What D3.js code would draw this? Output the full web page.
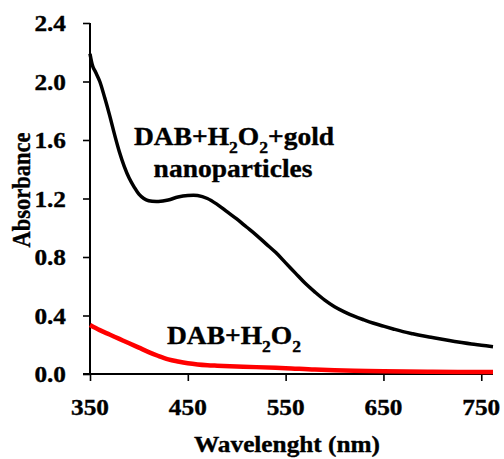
<!DOCTYPE html>
<html>
<head>
<meta charset="utf-8">
<script src="https://cdn.jsdelivr.net/npm/d3@7"></script>
<style>
  html, body { margin: 0; padding: 0; background: #fff; }
</style>
</head>
<body>
<div id="chart"></div>
<script>
  // wavelength (nm) and absorbance
  const goldWl = [350, 353, 356, 360, 365, 370, 375, 380, 385, 390, 395, 400, 405, 410, 420, 430, 440, 450, 460, 470, 480, 490, 500, 510, 520, 530, 540, 550, 560, 570, 580, 590, 600, 610, 620, 630, 640, 650, 660, 670, 680, 690, 700, 710, 720, 730, 740, 750, 762];
  const goldAbs = [2.19, 2.10, 2.06, 2.00, 1.89, 1.77, 1.64, 1.52, 1.42, 1.34, 1.28, 1.23, 1.20, 1.185, 1.18, 1.19, 1.21, 1.22, 1.22, 1.20, 1.16, 1.11, 1.06, 1.005, 0.95, 0.89, 0.83, 0.76, 0.69, 0.62, 0.56, 0.505, 0.46, 0.425, 0.395, 0.37, 0.347, 0.327, 0.308, 0.29, 0.275, 0.261, 0.249, 0.237, 0.226, 0.215, 0.205, 0.197, 0.187];

  const dabWl = [350, 360, 370, 380, 390, 400, 410, 420, 430, 440, 450, 460, 470, 480, 500, 520, 550, 580, 620, 650, 700, 762];
  const dabAbs = [0.335, 0.30, 0.27, 0.24, 0.21, 0.18, 0.15, 0.123, 0.10, 0.085, 0.073, 0.065, 0.06, 0.057, 0.052, 0.047, 0.04, 0.03, 0.022, 0.018, 0.015, 0.013];

  const xTicks = [350, 450, 550, 650, 750];
  const yTicks = [0.0, 0.4, 0.8, 1.2, 1.6, 2.0, 2.4];

  const W = 504, H = 459;
  const sx = 1.1; // the picture's text is slightly wide
  const FONT = '"Liberation Serif", "Times New Roman", serif';

  const svg = d3.select('#chart').append('svg')
    .attr('width', W).attr('height', H);

  const x = d3.scaleLinear().domain([350, 762]).range([90, 493]);
  const y = d3.scaleLinear().domain([0, 2.4]).range([374, 23]);

  // axes (ticks only, labels drawn below)
  svg.append('g')
    .attr('transform', `translate(${x(350)},0)`)
    .call(d3.axisLeft(y).tickValues(yTicks).tickSize(7).tickFormat(''));
  svg.append('g')
    .attr('transform', `translate(0,${y(0)})`)
    .call(d3.axisBottom(x).tickValues(xTicks).tickSize(7).tickFormat(''));
  svg.selectAll('.domain').remove();
  svg.selectAll('.tick line').attr('stroke', '#000').attr('stroke-width', 1.6);

  svg.append('line')
    .attr('x1', x(350)).attr('x2', x(350))
    .attr('y1', y(2.4)).attr('y2', y(0))
    .attr('stroke', '#000').attr('stroke-width', 2);
  svg.append('line')
    .attr('x1', x(350) - 7).attr('x2', x(762))
    .attr('y1', y(0)).attr('y2', y(0))
    .attr('stroke', '#000').attr('stroke-width', 2.2);

  function txt(size) {
    return svg.append('text')
      .attr('font-family', FONT).attr('font-weight', 'bold')
      .attr('font-size', size).attr('fill', '#000')
      .attr('stroke', '#000').attr('stroke-width', 0.35);
  }

  // tick labels
  yTicks.forEach((d) => {
    txt(23).attr('text-anchor', 'end')
      .attr('transform', `translate(66,${y(d) + 8}) scale(${sx},1)`)
      .text(d.toFixed(1));
  });
  xTicks.forEach((d) => {
    txt(23).attr('text-anchor', 'middle')
      .attr('transform', `translate(${x(d)},415) scale(${sx},1)`)
      .text(d);
  });

  // axis titles
  txt(23).attr('text-anchor', 'middle')
    .attr('transform', `translate(287,452) scale(${sx},1)`)
    .text('Wavelenght (nm)');
  txt(22.5).attr('text-anchor', 'middle')
    .attr('transform', `translate(30,190) scale(${sx},1) rotate(-90)`)
    .text('Absorbance');

  // curves
  const line = d3.line()
    .x((d) => x(d[0]))
    .y((d) => y(d[1]))
    .curve(d3.curveCatmullRom.alpha(0.5));

  svg.append('path')
    .datum(dabWl.map((w, i) => [w, dabAbs[i]]))
    .attr('fill', 'none').attr('stroke', '#ff0000').attr('stroke-width', 4.5)
    .attr('d', line);
  svg.append('path')
    .datum(goldWl.map((w, i) => [w, goldAbs[i]]))
    .attr('fill', 'none').attr('stroke', '#000').attr('stroke-width', 3.5)
    .attr('d', line);

  // annotations with subscripts
  function formula(t, parts) {
    parts.forEach((p) => {
      const ts = t.append('tspan').text(p.s);
      if (p.sub) ts.attr('font-size', 16).attr('dy', 8);
      else if (p.back) ts.attr('dy', -8);
    });
  }

  const a1 = txt(25).attr('text-anchor', 'middle')
    .attr('transform', `translate(234,145) scale(${sx},1)`);
  formula(a1, [{ s: 'DAB+H' }, { s: '2', sub: true }, { s: 'O', back: true }, { s: '2', sub: true }, { s: '+gold', back: true }]);

  txt(25).attr('text-anchor', 'middle')
    .attr('transform', `translate(233,177) scale(${sx},1)`)
    .text('nanoparticles');

  const a2 = txt(25).attr('text-anchor', 'middle')
    .attr('transform', `translate(234,344) scale(${sx},1)`);
  formula(a2, [{ s: 'DAB+H' }, { s: '2', sub: true }, { s: 'O', back: true }, { s: '2', sub: true }]);
</script>
</body>
</html>
